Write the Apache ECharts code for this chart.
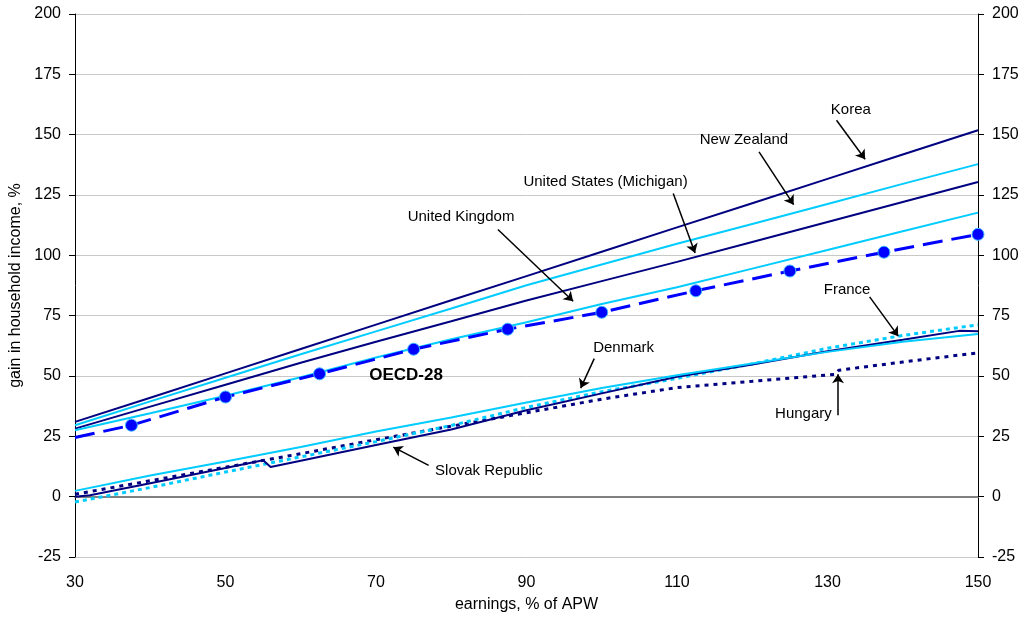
<!DOCTYPE html>
<html><head><meta charset="utf-8">
<script src="https://cdn.jsdelivr.net/npm/echarts@6/dist/echarts.min.js"></script>
<style>html,body{margin:0;padding:0;background:#fff}#c{width:1023px;height:621px}</style>
</head><body><div id="c"></div>
<script>
// ---------- data ----------
const xTicks = [30, 50, 70, 90, 110, 130, 150];
const xStd = [30, 40, 50, 60, 70, 80, 90, 100, 110, 120, 130, 140, 150];
const korea = [31, 41, 51.1, 61.2, 71.3, 81.4, 91.4, 101.5, 111.6, 121.6, 131.7, 141.8, 151.8];
const newZealand = [29.6, 39.5, 49.3, 59.0, 68.5, 78.0, 87.6, 96.2, 104.8, 113.0, 121.3, 129.6, 137.8];
const usMichigan = [28.2, 37.3, 46.4, 55.5, 64.2, 72.7, 81.3, 89.3, 97.3, 105.5, 113.8, 122.1, 130.4];
const unitedKingdom = [27.5, 34.6, 41.8, 49.5, 57.7, 65.2, 72.3, 79.8, 86.8, 94.5, 102.2, 110.0, 117.7];
const denmark = [2.4, 8.8, 14.6, 20.6, 27.0, 32.8, 39.0, 45.0, 50.3, 55.2, 60.0, 64.2, 67.4];
const france = [-2.2, 3.8, 10.2, 16.5, 22.8, 29.5, 37.0, 43.5, 49.0, 55.0, 61.5, 66.8, 71.2];
const slovakX = [30, 32, 40, 50, 55, 56, 60, 70, 80, 90, 100, 110, 120, 130, 140, 147.5, 150];
const slovak = [0, 0.6, 5.6, 11.9, 15.1, 12.3, 14.9, 21.4, 27.8, 35.8, 42.8, 49.7, 54.8, 60.3, 65.0, 68.7, 68.5];
const hungaryX = [30, 40, 50, 60, 70, 80, 90, 100, 110, 120, 131, 131.5, 140, 150];
const hungary = [1.0, 6.6, 12.2, 17.8, 23.6, 29.2, 34.8, 40.4, 45.2, 47.8, 50.7, 52.4, 55.8, 59.6];
const oecdX = [30, 37.5, 50, 62.5, 75, 87.5, 100, 112.5, 125, 137.5, 150];
const oecd = [24.5, 29.6, 41.3, 50.9, 61.1, 69.4, 76.4, 85.3, 93.5, 101.3, 108.7];

// annotation texts and arrow anchors (data coordinates)
const annoText = ['Korea', 'New Zealand', 'United States (Michigan)', 'United Kingdom', 'OECD-28', 'Denmark', 'France', 'Hungary', 'Slovak Republic'];
const annoAt = [[133.1, 160.4], [118.9, 148.0], [100.5, 130.4], [81.3, 115.9], [74.0, 50.3], [102.9, 61.6], [132.6, 85.5], [126.8, 34.4], [85.0, 10.7]];
const arrowFrom = [[131.2, 156.0], [120.9, 142.9], [109.5, 125.6], [86.2, 110.7], null, [99.0, 57.2], [135.6, 82.8], [131.4, 33.7], [77.0, 13.0]];
const arrowTo = [[135.0, 139.8], [125.5, 121.0], [112.4, 101.0], [96.2, 81.0], null, [97.2, 45.0], [139.4, 66.5], [131.4, 50.7], [72.3, 20.5]];

// ---------- chart ----------
const FONT = '"Liberation Sans", Arial, sans-serif';
const NAVY = '#000080', CYAN = '#00CCFF', BLUE = '#0000FF';
const pairs = (xs, ys) => xs.map((x, i) => [x, ys[i]]);
function lineSeries(name, xs, ys, color, type, width) {
  return { name, type: 'line', data: pairs(xs, ys), symbol: 'none', showSymbol: false,
    lineStyle: { color, width, type }, itemStyle: { color }, z: 3 };
}
const chart = echarts.init(document.getElementById('c'));
const labelData = annoText.map((t, i) => ({
  name: t, value: annoAt[i],
  label: t === 'OECD-28' ? { fontWeight: 'bold', fontSize: 17 } : {}
}));
const arrowData = [];
arrowFrom.forEach((f, i) => { if (f) arrowData.push([{ coord: f }, { coord: arrowTo[i] }]); });

chart.setOption({
  animation: false,
  backgroundColor: '#fff',
  textStyle: { fontFamily: FONT },
  grid: { left: 75, right: 45, top: 14, bottom: 64, containLabel: false, outerBoundsMode: 'none' },
  xAxis: [
    { type: 'value', min: 30, max: 150, interval: 20, position: 'bottom',
      axisLine: { show: false, onZero: false }, axisTick: { show: false }, splitLine: { show: false },
      axisLabel: { margin: 18, color: '#000', fontSize: 16, fontFamily: FONT },
      name: 'earnings, % of APW', nameLocation: 'middle', nameGap: 40,
      nameTextStyle: { color: '#000', fontSize: 16, fontFamily: FONT } },
    { type: 'value', min: 30, max: 150, position: 'bottom',
      axisLine: { show: true, onZero: true, lineStyle: { color: '#808080', width: 2 } },
      axisTick: { show: false }, axisLabel: { show: false }, splitLine: { show: false } }
  ],
  yAxis: [
    { type: 'value', min: -25, max: 200, interval: 25, position: 'left',
      axisLine: { show: true, onZero: false, lineStyle: { color: '#000', width: 1 } },
      axisTick: { show: true, length: 6, lineStyle: { color: '#000' } },
      axisLabel: { margin: 14, color: '#000', fontSize: 16, fontFamily: FONT },
      splitLine: { show: true, lineStyle: { color: '#C8C8C8', width: 1 } },
      name: 'gain in household income, %', nameLocation: 'middle', nameGap: 48, nameRotate: 90,
      nameTextStyle: { color: '#000', fontSize: 16, fontFamily: FONT } },
    { type: 'value', min: -25, max: 200, interval: 25, position: 'right',
      axisLine: { show: true, onZero: false, lineStyle: { color: '#000', width: 1 } },
      axisTick: { show: true, length: 6, lineStyle: { color: '#000' } },
      axisLabel: { margin: 14, color: '#000', fontSize: 16, fontFamily: FONT },
      splitLine: { show: false } }
  ],
  series: [
    lineSeries('Hungary', hungaryX, hungary, NAVY, [4, 5], 3),
    lineSeries('France', xStd, france, CYAN, [4, 4], 3),
    lineSeries('Slovak Republic', slovakX, slovak, NAVY, 'solid', 2),
    lineSeries('Denmark', xStd, denmark, CYAN, 'solid', 2),
    lineSeries('United States (Michigan)', xStd, usMichigan, NAVY, 'solid', 2),
    lineSeries('New Zealand', xStd, newZealand, CYAN, 'solid', 2),
    lineSeries('Korea', xStd, korea, NAVY, 'solid', 2),
    lineSeries('United Kingdom', xStd, unitedKingdom, CYAN, 'solid', 2),
    { name: 'OECD-28', type: 'line', z: 4,
      data: pairs(oecdX, oecd).map((p, i) => i === 0 ? { value: p, symbol: 'none' } : { value: p }),
      symbol: 'circle', symbolSize: 12, showSymbol: true,
      itemStyle: { color: BLUE, borderColor: '#3fb6ff', borderWidth: 1 },
      lineStyle: { color: BLUE, width: 3, type: [20, 9] } },
    { name: 'annotations', type: 'scatter', z: 5, silent: true,
      data: labelData, symbolSize: 1, itemStyle: { color: 'transparent' },
      label: { show: true, position: 'inside', formatter: '{b}', color: '#000', fontSize: 15,
        fontFamily: FONT, textBorderWidth: 0, opacity: 1 },
      markLine: { silent: true, symbol: ['none', 'arrow'], symbolSize: 9,
        lineStyle: { color: '#000', width: 1.5, type: 'solid' }, label: { show: false },
        data: arrowData } }
  ]
});
</script></body></html>
